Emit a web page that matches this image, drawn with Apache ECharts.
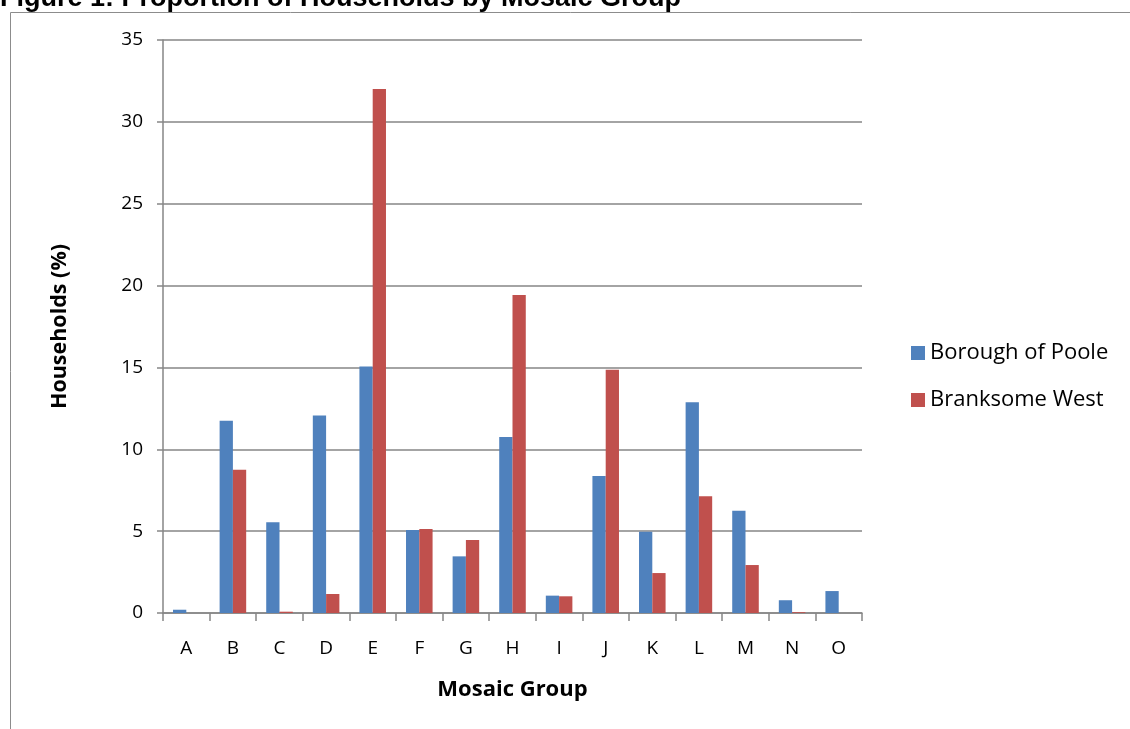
<!DOCTYPE html>
<html>
<head>
<meta charset="utf-8">
<script src="https://cdn.jsdelivr.net/npm/echarts@6/dist/echarts.min.js"></script>
<style>html,body{margin:0;padding:0;background:#fff}#c{width:1130px;height:729px}</style>
</head>
<body>
<div id="c"></div>
<script>
const categories = ['A','B','C','D','E','F','G','H','I','J','K','L','M','N','O'];
const poole = [0.2, 11.75, 5.55, 12.07, 15.05, 5.07, 3.46, 10.75, 1.06, 8.37, 4.97, 12.87, 6.25, 0.78, 1.34];
const branksome = [0, 8.75, 0.08, 1.16, 32.0, 5.13, 4.46, 19.43, 1.02, 14.86, 2.44, 7.13, 2.93, 0.05, 0];
const yTicks = [0, 5, 10, 15, 20, 25, 30, 35];
const seriesNames = ['Borough of Poole', 'Branksome West'];
const titleText = 'Figure 1: Proportion of Households by Mosaic Group';

const FONT = 'Open Sans';
const chart = echarts.init(document.getElementById('c'));
chart.setOption({
  animation: false,
  textStyle: { fontFamily: FONT },
  graphic: [
    { type: 'rect', shape: { x: 10.5, y: 12.5, width: 1300, height: 900 }, style: { fill: 'none', stroke: '#8c8c8c', lineWidth: 1 }, z: -1 },
    { type: 'text', x: 0, y: 12, style: { text: titleText, font: 'bold 27px "Liberation Sans", Arial', fill: '#000', verticalAlign: 'bottom' } }
  ],
  grid: { left: 163, right: 268, top: 40, bottom: 116, containLabel: false },
  legend: {
    orient: 'vertical', left: 906, top: 337,
    itemWidth: 14, itemHeight: 14, itemGap: 25,
    icon: 'rect',
    textStyle: { fontSize: 22, color: '#000', fontFamily: FONT },
    data: seriesNames
  },
  xAxis: {
    type: 'category', data: categories,
    name: 'Mosaic Group', nameLocation: 'middle', nameGap: 66,
    nameTextStyle: { fontSize: 22, fontWeight: 'bold', color: '#000', fontFamily: FONT },
    axisLine: { lineStyle: { color: '#868686', width: 1.5 } },
    axisTick: { show: true, length: 8, inside: false, alignWithLabel: false, lineStyle: { color: '#868686', width: 1.5 } },
    axisLabel: { fontSize: 19, color: '#000', margin: 26 },
    splitLine: { show: false }
  },
  yAxis: {
    type: 'value', min: 0, max: 35, interval: 5,
    name: 'Households (%)', nameLocation: 'middle', nameGap: 92, nameRotate: 90,
    nameTextStyle: { fontSize: 21.5, fontWeight: 'bold', color: '#000', fontFamily: FONT },
    axisLine: { show: true, lineStyle: { color: '#868686', width: 1.5 } },
    axisTick: { show: true, length: 6, lineStyle: { color: '#868686', width: 1.5 } },
    axisLabel: { fontSize: 19, color: '#000', margin: 20, formatter: v => yTicks.includes(v) ? String(v) : '' },
    splitLine: { show: true, lineStyle: { color: '#868686', width: 1.5 } }
  },
  series: [
    { name: seriesNames[0], type: 'bar', data: poole, barGap: '0%', barCategoryGap: '43%', itemStyle: { color: '#4F81BD' } },
    { name: seriesNames[1], type: 'bar', data: branksome, barGap: '0%', barCategoryGap: '43%', itemStyle: { color: '#C0504D' } }
  ]
});
</script>
</body>
</html>
